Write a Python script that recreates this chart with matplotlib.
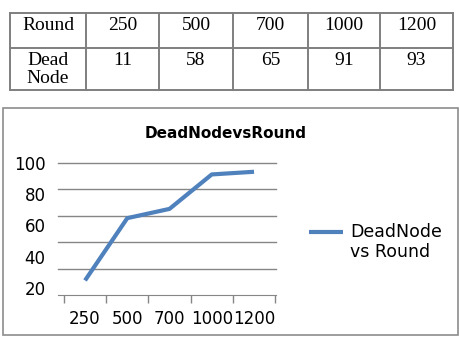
import numpy as np
import matplotlib
matplotlib.use("Agg")
import matplotlib.pyplot as plt
from matplotlib.patches import Rectangle
from matplotlib.legend_handler import HandlerLine2D

# data
rounds = ["250", "500", "700", "1000", "1200"]
dead_nodes = [11, 58, 65, 91, 93]
y_labels = ["100", "80", "60", "40", "20"]
grid_levels = [20, 40, 60, 80, 100]


class TopLineHandler(HandlerLine2D):
    # put the legend line beside the first text line, as Excel does
    def create_artists(self, *args, **kwargs):
        artists = super().create_artists(*args, **kwargs)
        for a in artists:
            a.set_ydata(np.asarray(a.get_ydata()) + 8)
        return artists


W, H = 460, 338
fig = plt.figure(figsize=(W / 100, H / 100), dpi=100)

# background layer in pixel coords (table + chart frame)
bg = fig.add_axes([0, 0, 1, 1])
bg.set_xlim(0, W)
bg.set_ylim(H, 0)
bg.axis("off")

col_edges = [10, 86, 159, 233, 308, 380, 453]
row_edges = [13, 48, 90]
border = "#7f7f7f"
for x in col_edges:
    bg.plot([x, x], [row_edges[0], row_edges[-1]], color=border, lw=1.4)
for y in row_edges:
    bg.plot([col_edges[0], col_edges[-1]], [y, y], color=border, lw=1.4)

serif = dict(family="Liberation Serif", fontsize=14, color="black")
row1 = ["Round"] + rounds
row2 = ["Dead\nNode"] + [str(v) for v in dead_nodes]
for i in range(len(row1)):
    cx = (col_edges[i] + col_edges[i + 1]) / 2
    bg.text(cx, 17, row1[i], ha="center", va="top", **serif)
    bg.text(cx, 52, row2[i], ha="center", va="top", linespacing=1.05, **serif)

# chart frame
bg.add_patch(Rectangle((3, 108), 455, 227, fill=False, edgecolor="#8c8c8c", lw=1.2))

# chart axes
left, right, top, bottom = 58, 276, 162.5, 295
ax = fig.add_axes([left / W, 1 - bottom / H, (right - left) / W, (bottom - top) / H])
x = np.arange(len(rounds))
ax.plot(x, dead_nodes, color="#4f81bd", lw=3, solid_capstyle="butt",
        label="DeadNode\nvs Round")

ax.set_xlim(-0.64, 4.52)
ax.set_ylim(0, 100)
for s in ["top", "right", "left"]:
    ax.spines[s].set_visible(False)
ax.spines["bottom"].set_color("#868686")

# category ticks on boundaries, labels in centre
ax.set_xticks(x)
ax.set_xticklabels(rounds, fontsize=12, family="DejaVu Sans")
ax.tick_params(axis="x", length=0, pad=11)
ax.set_xticks(np.arange(-0.5, len(rounds)), minor=True)
ax.tick_params(axis="x", which="minor", length=6, width=1, color="#868686", direction="out")

# gridlines on minor y ticks, labels placed as in the reference
ax.yaxis.remove_overlapping_locs = False
ax.set_yticks(grid_levels, minor=True)
ax.grid(axis="y", which="minor", color="#868686", lw=1)
for t in ax.yaxis.get_minor_ticks():
    t.gridline.set_clip_on(False)
ax.set_yticks(np.linspace(100, 5, len(y_labels)))
ax.set_yticklabels(y_labels, fontsize=12, family="DejaVu Sans")
ax.tick_params(axis="y", which="both", length=0, pad=9)

fig.text(226 / W, 1 - 133 / H, "DeadNodevsRound", ha="center", va="center",
         fontsize=11, fontweight="bold")

fig.legend(loc="center left", bbox_to_anchor=(293 / W, 1 - 242 / H), frameon=False,
           fontsize=12.5, handlelength=2.0, handletextpad=0.4, labelspacing=0,
           handler_map={matplotlib.lines.Line2D: TopLineHandler()})

fig.savefig("out.png", dpi=100)
